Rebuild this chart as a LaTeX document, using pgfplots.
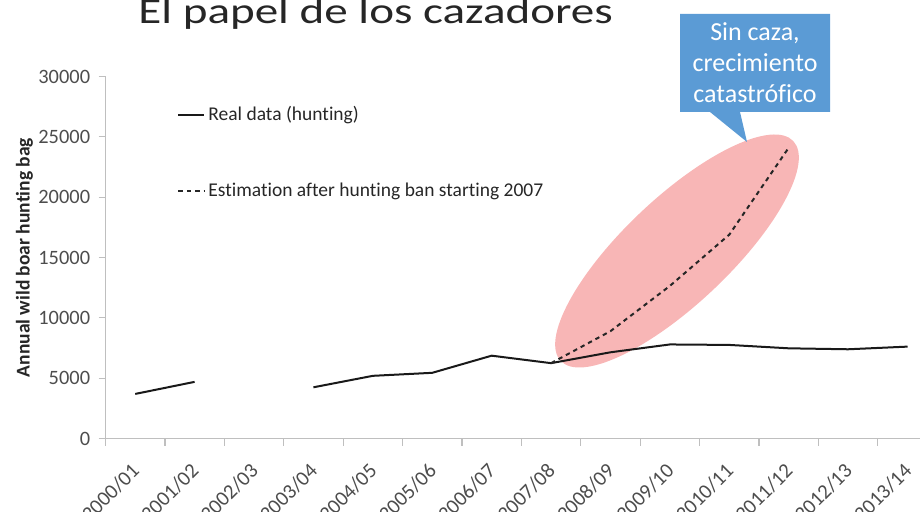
\documentclass[border=0pt]{standalone}
\usepackage{pgfplots}
\pgfplotsset{compat=1.18}
\usepackage{fontspec}
\setmainfont{Carlito}[Ligatures=NoCommon]
\definecolor{axisgray}{HTML}{BFBFBF}
\definecolor{ticktext}{HTML}{4D4D4D}
\definecolor{ellpink}{RGB}{248,182,182}
\definecolor{callblue}{HTML}{5B9BD5}
\definecolor{titlegray}{HTML}{262626}
\begin{document}
\begin{tikzpicture}
\clip (0,0) rectangle (460pt,256pt);
% highlight ellipse (annotation)
\fill[ellpink, rotate around={43.4:(338.5pt,130.5pt)}] (338.5pt,130.5pt) ellipse [x radius=80pt, y radius=26.5pt];
\begin{axis}[
  at={(52.75pt,36.7pt)}, anchor=south west,
  scale only axis, width=407.25pt, height=181.05pt,
  xmin=-0.5, xmax=13.21, ymin=0, ymax=30000,
  axis x line*=bottom, axis y line*=left,
  axis line style={draw=axisgray, line width=0.6pt},
  scaled y ticks=false,
  xtick={0,...,13},
  xticklabels={2000/01,2001/02,2002/03,2003/04,2004/05,2005/06,2006/07,2007/08,2008/09,2009/10,2010/11,2011/12,2012/13,2013/14},
  minor xtick={-0.5,0.5,...,12.5},
  ytick={0,5000,10000,15000,20000,25000,30000},
  yticklabels={0,5000,10000,15000,20000,25000,30000},
  tick align=outside, major tick length=3.5pt, minor tick length=3.5pt,
  every major x tick/.append style={draw=none},
  every minor tick/.append style={draw=axisgray, line width=0.6pt},
  every major y tick/.append style={draw=axisgray, line width=0.6pt},
  ticklabel style={text=ticktext, inner sep=0pt},
  yticklabel style={anchor=east, xshift=-4pt, font=\fontsize{10.2}{12}\selectfont},
  xticklabel style={xshift=-2.5pt, yshift=-8pt, rotate=45, anchor=north east, font=\fontsize{10.4}{12}\selectfont},
  ylabel={\textbf{Annual wild boar hunting bag}},
  ylabel style={at={(rel axis cs:0,0.5)}, anchor=center, yshift=40.5pt, font=\fontsize{9.75}{11.7}\selectfont, text=titlegray},
  unbounded coords=jump,
  legend cell align=left,
  legend image code/.code={\draw[#1] (0pt,0pt) -- (13pt,0pt);},
  legend style={at={(rel axis cs:0.0878,0.9268)}, anchor=north west, draw=none, fill=none,
    inner sep=0pt, row sep=26.5pt, font=\fontsize{9.75}{11.7}\selectfont,
    nodes={inner sep=1.5pt, text=titlegray}},
]
\addplot[color=black!90, line width=1pt] coordinates {
 (0,3700) (1,4700) (2,nan) (3,4250) (4,5200) (5,5450) (6,6870) (7,6250)
 (8,7150) (9,7800) (10,7760) (11,7480) (12,7400) (13,7620)
};
\addlegendentry{Real data (hunting)}
\addplot[color=black!85, line width=1pt, dash pattern=on 2.2pt off 2pt] coordinates {
 (7,6250) (8,8900) (9,12650) (10,16900) (11,24100)
};
\addlegendentry{Estimation after hunting ban starting 2007}
\end{axis}
% title
\node[anchor=base west, text=titlegray, inner sep=0pt] at (69pt,244pt)
  {\scalebox{1.29}[1]{\fontsize{18.25}{22}\selectfont El papel de los cazadores}};
% callout
\fill[callblue] (340pt,249pt) -- (415pt,249pt) -- (415pt,200pt) -- (370pt,200pt)
  -- (373.5pt,185pt) -- (355pt,200pt) -- (340pt,200pt) -- cycle;
\node[align=center, text=white, font=\fontsize{13}{15.5}\selectfont, inner sep=0pt]
  at (377.5pt,224.5pt) {Sin caza,\\crecimiento\\catastrófico};
\end{tikzpicture}
\end{document}
